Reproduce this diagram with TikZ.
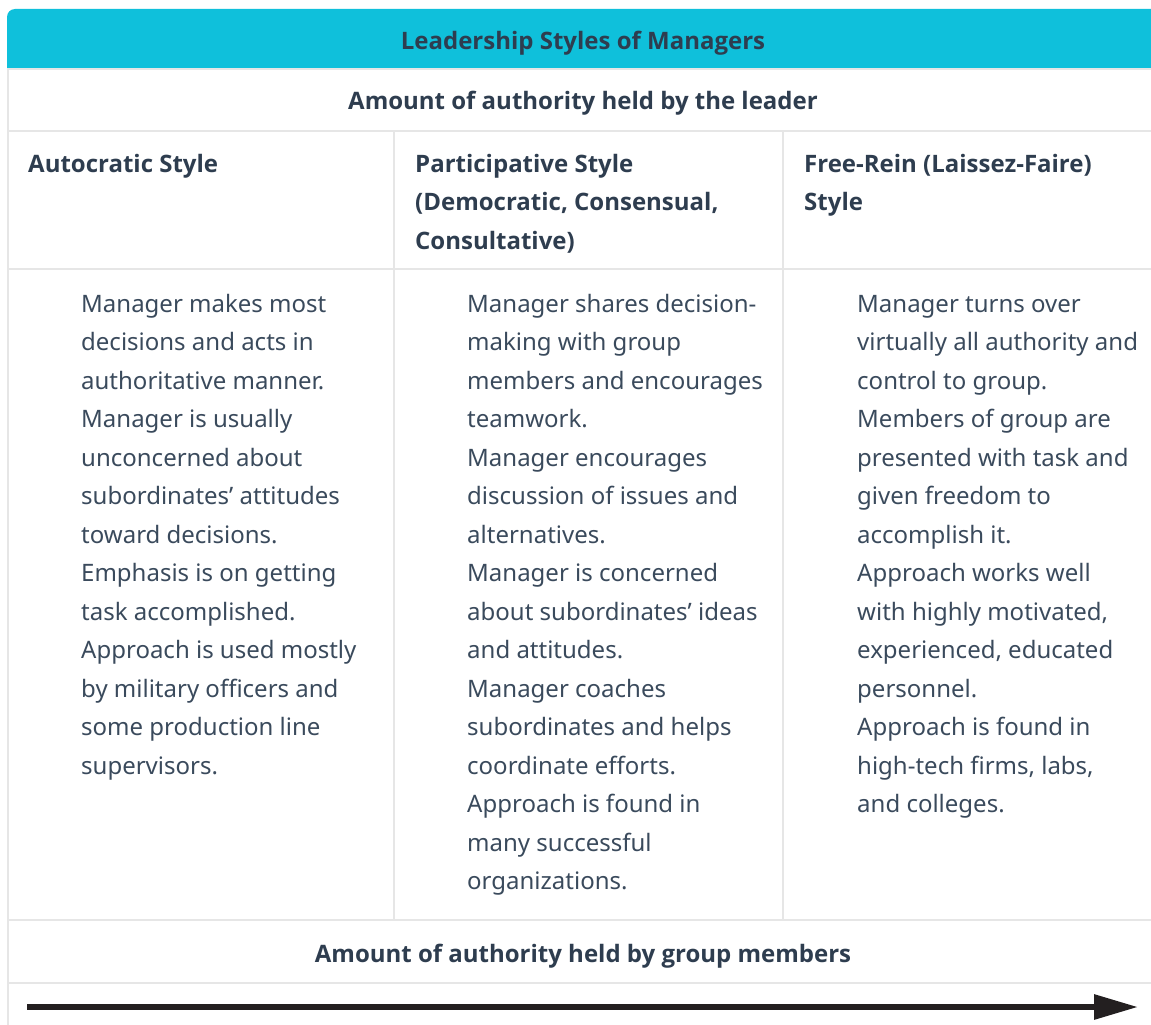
\documentclass[tikz,border=0pt]{standalone}
\usepackage{fontspec}
\setmainfont{Noto Sans}
\newfontfamily\headfont{Open Sans}
\usetikzlibrary{arrows.meta}
\definecolor{headfill}{HTML}{0FC0DB}
\definecolor{gridline}{HTML}{E6E6E6}
\definecolor{boldink}{HTML}{2E3D4F}
\definecolor{bodyink}{HTML}{3A4A5C}
\definecolor{arrowink}{HTML}{231F20}

\begin{document}
\begin{tikzpicture}[x=1pt,y=-1pt,
    grid/.style={draw=gridline,line width=2pt},
    bold text/.style={anchor=base,inner sep=0pt,text=boldink,font=\headfont\fontsize{24}{38.5}\selectfont\bfseries},
    col head/.style={anchor=base west,align=left,inner sep=0pt,text=boldink,font=\headfont\fontsize{24}{38.5}\selectfont\bfseries},
    cell text/.style={anchor=base west,align=left,inner sep=0pt,text=bodyink,font=\fontsize{24}{38.5}\selectfont}]
    \useasboundingbox (0,0) rectangle (1151,1025);
    \begin{scope}
    \clip (0,0) rectangle (1151,1025);
    % header band
    \fill[headfill] (7,68) [rounded corners=8pt] |- (1160,9) [sharp corners] -- (1160,68) -- cycle;
    % table rules
    \draw[grid] (8,68) -- (8,1025);
    \foreach \y in {69,131,269,920,983}
        \draw[grid] (8,\y) -- (1160,\y);
    \foreach \x in {394,783}
        \draw[grid] (\x,131) -- (\x,920);
    \end{scope}

    \node[bold text] (title) at (583,49) {Leadership Styles of Managers};
    \node[bold text] (leader) at (583,110) {Amount of authority held by the leader};

    % multi-line nodes sit on their last baseline
    \node[col head] (autohead) at (28,172) {Autocratic Style};
    \node[col head] (parthead) at (415,249) {Participative Style\\(Democratic, Consensual,\\Consultative)};
    \node[col head] (freehead) at (804,210.5) {Free-Rein (Laissez-Faire)\\Style};

    \node[cell text] (autobody) at (81,774) {Manager makes most\\decisions and acts in\\authoritative manner.\\Manager is usually\\unconcerned about\\subordinates’ attitudes\\toward decisions.\\Emphasis is on getting\\task accomplished.\\Approach is used mostly\\by military officers and\\some production line\\supervisors.};
    \node[cell text] (partbody) at (467,889.5) {Manager shares decision-\\making with group\\members and encourages\\teamwork.\\Manager encourages\\discussion of issues and\\alternatives.\\Manager is concerned\\about subordinates’ ideas\\and attitudes.\\Manager coaches\\subordinates and helps\\coordinate efforts.\\Approach is found in\\many successful\\organizations.};
    \node[cell text] (freebody) at (857,812.5) {Manager turns over\\virtually all authority and\\control to group.\\Members of group are\\presented with task and\\given freedom to\\accomplish it.\\Approach works well\\with highly motivated,\\experienced, educated\\personnel.\\Approach is found in\\high-tech firms, labs,\\and colleges.};

    \node[bold text] (members) at (583,962) {Amount of authority held by group members};

    % authority arrow
    \coordinate (arrowstart) at (27,1007);
    \coordinate (arrowend) at (1138,1007);
    \draw[arrowink,line width=6pt,-{Triangle[length=44pt,width=24pt]}] (arrowstart) -- (arrowend);
\end{tikzpicture}
\end{document}
